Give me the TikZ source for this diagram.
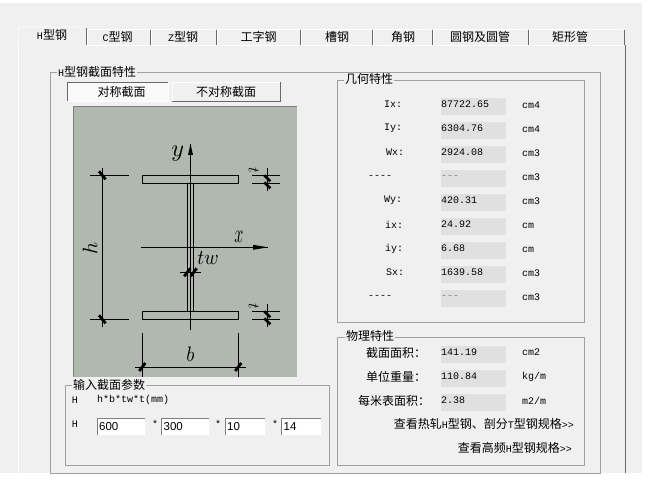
\documentclass[tikz,border=0pt]{standalone}
\usepackage{fontspec}
\setmainfont{Liberation Mono}[Ligatures=TeXOff]
\newfontfamily\cjkfont{Noto Sans CJK SC}
\newfontfamily\inputfont{Liberation Sans}
\newcommand{\la}[1]{{\rmfamily\fontsize{10}{12}\selectfont #1}}
\definecolor{winbg}{HTML}{F0F0F0}
\definecolor{platecol}{HTML}{B0B8B0}
\definecolor{valcol}{HTML}{E0E0E0}
\definecolor{linecol}{HTML}{A0A0A0}
\definecolor{darkcol}{HTML}{696969}
\tikzset{
    cntext/.style={font=\cjkfont\fontsize{12}{14}\selectfont,inner sep=0pt},
    mono/.style={font=\rmfamily\fontsize{10}{12}\selectfont,inner sep=0pt},
    grouplabel/.style={cntext,fill=winbg,inner xsep=1pt,anchor=west},
    groupbox/.style={draw=linecol,fill=winbg},
    valbox/.style={fill=valcol,draw=none},
    ink/.style={draw=black,line width=0.8pt},
    slashtick/.style={draw=black,line width=2.8pt},
    mathlabel/.style={inner sep=0pt,scale=2.1},
}
\begin{document}
\begin{tikzpicture}[x=1pt,y=-1pt]
    \useasboundingbox (0,0) rectangle (649,481);
    \fill[white] (0,0) rectangle (649,481);
    \fill[winbg] (0,3) rectangle (642,473);
    %Tab page
    \draw[white,thick] (18,473) -- (18,45) -- (624,45);
    \draw[darkcol,thick] (625,45) -- (625,473);
    %Tabs
    \foreach \name/\xa/\xb/\xm/\lab in {
        tabc/87/150/117.5/\la{C}型钢,
        tabz/151/216/183/\la{Z}型钢,
        tabi/217/300/258.5/工字钢,
        tabu/301/372/337/槽钢,
        tabl/373/432/403/角钢,
        tabo/433/528/480/圆钢及圆管,
        tabr/529/624/570/矩形管}{
      \draw[white,thick] (\xa,45) -- (\xa,29) -- (\xb-1,29);
      \draw[darkcol,thick] (\xb,30) -- (\xb,45);
      \node[cntext] (\name) at (\xm,37) {\lab};
    }
    \fill[winbg] (18,27) rectangle (86,46);
    \draw[white,thick] (18,46) -- (18,29) -- (20,27) -- (85,27);
    \draw[darkcol,thick] (86,28) -- (86,45);
    \node[cntext] (tabh) at (52,35) {\la{H}型钢};
    %Section group
    \draw[groupbox] (50,72) rectangle (600,473);
    \node[grouplabel] (seclabel) at (57,72) {\la{H}型钢截面特性};
    %Switch buttons
    \fill[white!60!winbg] (67,82) rectangle (168,101);
    \draw[darkcol,thick] (67,101) -- (67,82) -- (168,82);
    \draw[white,thick] (168,82) -- (168,101) -- (67,101);
    \node[cntext] (btnsym) at (121.5,92) {对称截面};
    \draw[white,thick] (172,101) -- (172,82) -- (280,82);
    \draw[darkcol,thick] (280,82) -- (280,101) -- (172,101);
    \node[cntext] (btnasym) at (226,92) {不对称截面};
    %Section plate
    \fill[platecol] (73,106) rectangle (297,377);
    \draw[gray,thick] (73,377) -- (73,106) -- (297,106);
    %Flanges and web
    \draw[ink] (142.3,175.3) rectangle (238.3,183.3);
    \draw[ink] (142.3,311.3) rectangle (238.3,319.3);
    \foreach \x in {187.3,193.7}
      \draw[ink] (\x,183.3) -- (\x,311.3);
    %Axes
    \draw[ink] (190.5,330) -- (190.5,144);
    \fill (190.5,144) -- (193,155) -- (188,155) -- cycle;
    \draw[ink] (141,247.3) -- (267.7,247.3);
    \fill (268,247.3) -- (253,244.8) -- (253,249.8) -- cycle;
    \node[mathlabel,scale=1.15] (ylab) at (177.7,154) {$y$};
    \node[mathlabel,xscale=0.76,yscale=1.24] (xlab) at (239,236.5) {$x$};
    %Height dimension
    \draw[ink] (102.3,168) -- (102.3,326.7);
    \foreach \y in {175.3,319.3}{
      \draw[ink] (90,\y) -- (129,\y);
      \draw[slashtick] (99,\y-4) -- (105.6,\y+4);
    }
    \node[mathlabel,rotate=90] (hlab) at (90,248) {$h$};
    %Flange thickness dimensions
    \foreach \ya/\yb/\n in {175.3/183.3/top,311.3/319.3/bot}{
      \draw[ink] (252,\ya) -- (280,\ya);
      \draw[ink] (252,\yb) -- (280,\yb);
      \draw[ink] (267.3,\ya-7.5) -- (267.3,\yb+7.5);
      \draw[slashtick] (264.3,\ya) -- (270.3,\ya+6);
      \draw[slashtick] (264.3,\yb-1) -- (270.3,\yb+5);
      \node[inner sep=0pt,scale=1.6,rotate=-90] (t\n) at (253.5,\ya-5) {$t$};
    }
    %Web thickness dimension
    \draw[ink] (180,272.3) -- (200.7,272.3);
    \foreach \x in {187.3,193.7}
      \draw[slashtick] (\x-3,276.3) -- (\x+3,268.3);
    \node[mathlabel,xscale=0.92] (twlab) at (208,258.5) {$tw$};
    %Width dimension
    \draw[ink] (135,367) -- (245.7,367);
    \foreach \x in {142.3,238.3}{
      \draw[ink] (\x,333.3) -- (\x,377);
      \draw[slashtick] (\x-3,371) -- (\x+3,363);
    }
    \node[mathlabel,xscale=0.9] (blab) at (190.5,354) {$b$};
    %Input group
    \draw[groupbox] (65,385) rectangle (329,465);
    \node[grouplabel] (inplabel) at (72,385) {输入截面参数};
    \node[mono] (hcap) at (75,400) {H};
    \node[mono,anchor=west] (hfmt) at (97,400) {h*b*tw*t(mm)};
    \node[mono] (hrow) at (75,424) {H};
    \foreach \name/\xa/\xb/\val in {ih/97/145/600,ib/161.5/209/300,itw/225/265/10,it/281.5/321/14}{
      \fill[white] (\xa,418) rectangle (\xb,435);
      \draw[gray,thick] (\xa,435) -- (\xa,418) -- (\xb,418);
      \node[font=\inputfont\fontsize{11.5}{13}\selectfont,inner sep=0pt,anchor=west] (\name) at (\xa+2,427) {\val};
    }
    \foreach \name/\x in {sa/155,sb/218,sc/275}
      \node[mono] (\name) at (\x,424) {*};
    %Geometry group
    \draw[groupbox] (337,80) rectangle (584,322);
    \node[grouplabel] (geolabel) at (344,79) {几何特性};
    \foreach \n/\y/\xl/\lab/\val/\unit in {
        1/106.5/393/Ix:/87722.65/cm4,
        2/130.5/393/Iy:/6304.76/cm4,
        3/154.5/395/Wx:/2924.08/cm3,
        4/178.5/380/----/\textcolor{gray}{---}/cm3,
        5/202.5/393/Wy:/420.31/cm3,
        6/226.5/394/ix:/24.92/cm,
        7/250.5/394/iy:/6.68/cm,
        8/274.5/395/Sx:/1639.58/cm3,
        9/298.5/380/----/\textcolor{gray}{---}/cm3}{
      \fill[valbox] (441,\y-8.5) rectangle (506,\y+8.5);
      \node[mono] (geoname\n) at (\xl,\y-2) {\lab};
      \node[mono,anchor=west] (geoval\n) at (441,\y-2) {\val};
      \node[mono,anchor=west] (geounit\n) at (522,\y-1) {\unit};
    }
    %Physical group
    \draw[groupbox] (337,337) rectangle (584,465);
    \node[grouplabel] (phylabel) at (345,336) {物理特性};
    \foreach \n/\y/\xl/\lab/\val/\unit in {
        1/354.5/396/截面面积：/141.19/cm2,
        2/378.5/396/单位重量：/110.84/{kg/m},
        3/402.5/394/每米表面积：/2.38/{m2/m}}{
      \fill[valbox] (441,\y-8.5) rectangle (506,\y+8.5);
      \node[cntext] (phyname\n) at (\xl,\y-2) {\lab};
      \node[mono,anchor=west] (phyval\n) at (441,\y-2) {\val};
      \node[mono,anchor=west] (phyunit\n) at (522,\y-2) {\unit};
    }
    %Links
    \node[cntext,anchor=east] (linka) at (574,424) {查看热轧\la{H}型钢、剖分\la{T}型钢规格\la{>>}};
    \node[cntext,anchor=east] (linkb) at (572,448) {查看高频\la{H}型钢规格\la{>>}};
\end{tikzpicture}
\end{document}
